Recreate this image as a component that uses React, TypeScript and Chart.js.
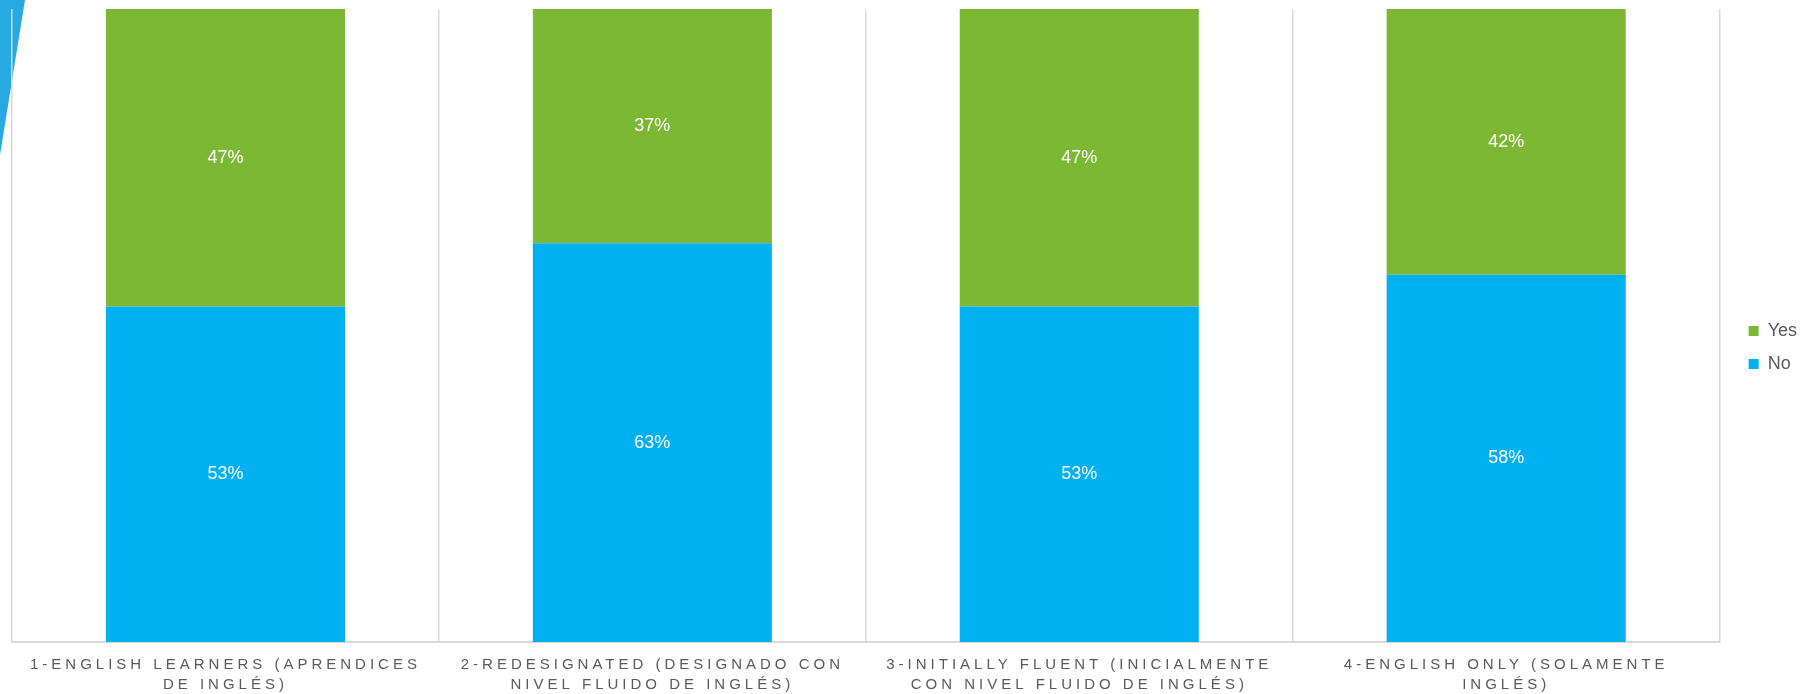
import React, { useEffect, useRef } from 'react';
import { Chart, registerables, CategoryScale } from 'chart.js';

Chart.register(...registerables);

class SpacedCategoryScale extends CategoryScale {
  static id = 'spacedCategory';
  static defaults = CategoryScale.defaults;
  _computeLabelArea() {
    return undefined;
  }
  drawLabels(chartArea: any) {
    const ctx: any = this.ctx;
    ctx.save();
    ctx.letterSpacing = '4px';
    super.drawLabels(chartArea);
    ctx.restore();
  }
}
Chart.register(SpacedCategoryScale as any);

const FONT = '"Liberation Sans", Arial, Helvetica, sans-serif';

const categories: string[][] = [
  ['1-ENGLISH LEARNERS (APRENDICES', 'DE INGLÉS)'],
  ['2-REDESIGNATED (DESIGNADO CON', 'NIVEL FLUIDO DE INGLÉS)'],
  ['3-INITIALLY FLUENT (INICIALMENTE', 'CON NIVEL FLUIDO DE INGLÉS)'],
  ['4-ENGLISH ONLY (SOLAMENTE', 'INGLÉS)'],
];
const noValues = [53, 63, 53, 58];
const yesValues = [47, 37, 47, 42];

const GREEN = '#7cb834';
const BLUE = '#00b0f0';

const decorationPlugin = {
  id: 'decoration',
  beforeDraw(chart: any) {
    const ctx = chart.ctx;
    ctx.save();
    ctx.fillStyle = '#27aae1';
    ctx.beginPath();
    ctx.moveTo(0, 0);
    ctx.lineTo(25, 0);
    ctx.lineTo(0, 155);
    ctx.closePath();
    ctx.fill();
    ctx.restore();
  },
};

const dataLabelPlugin = {
  id: 'dataLabels',
  afterDatasetsDraw(chart: any) {
    const ctx = chart.ctx;
    ctx.save();
    ctx.fillStyle = '#ffffff';
    ctx.font = `18px ${FONT}`;
    ctx.textAlign = 'center';
    ctx.textBaseline = 'middle';
    chart.data.datasets.forEach((ds: any, i: number) => {
      const meta = chart.getDatasetMeta(i);
      meta.data.forEach((bar: any, j: number) => {
        const { x, y, base } = bar.getProps(['x', 'y', 'base'], true);
        ctx.fillText(ds.data[j] + '%', x, (y + base) / 2);
      });
    });
    ctx.restore();
  },
};

export default function App() {
  const ref = useRef<HTMLCanvasElement | null>(null);
  useEffect(() => {
    document.body.style.margin = '0';
    Chart.defaults.font.family = FONT;
    const chart = new Chart(ref.current as HTMLCanvasElement, {
      type: 'bar',
      data: {
        labels: categories,
        datasets: [
          { label: 'No', data: noValues, backgroundColor: BLUE, barPercentage: 0.56, categoryPercentage: 1 },
          { label: 'Yes', data: yesValues, backgroundColor: GREEN, barPercentage: 0.56, categoryPercentage: 1 },
        ],
      },
      options: {
        animation: false,
        responsive: false,
        devicePixelRatio: 1,
        layout: { padding: { left: 12, top: 9, right: -2, bottom: 8 } },
        plugins: {
          legend: {
            position: 'right',
            reverse: true,
            labels: {
              boxWidth: 10,
              boxHeight: 10,
              padding: 15,
              color: '#595959',
              font: { size: 18, family: FONT },
            },
          },
          tooltip: { enabled: false },
        },
        scales: {
          x: {
            type: 'spacedCategory' as any,
            stacked: true,
            offset: true,
            grid: { offset: true, color: '#d9d9d9', lineWidth: 1.5, drawTicks: false },
            border: { color: '#d9d9d9', width: 2 },
            ticks: {
              color: '#595959',
              font: { size: 15, family: FONT, lineHeight: 1.333 },
              padding: 13,
              maxRotation: 0,
              minRotation: 0,
              autoSkip: false,
            },
            afterFit: (scale: any) => {
              scale.height = 44;
            },
          },
          y: {
            stacked: true,
            min: 0,
            max: 100,
            position: 'right',
            display: true,
            ticks: { display: false },
            grid: { display: false },
            border: { display: false },
            afterFit: (scale: any) => {
              scale.width = 14;
            },
          },
        },
      },
      plugins: [decorationPlugin, dataLabelPlugin],
    } as any);
    return () => chart.destroy();
  }, []);
  return (
    <div style={{ width: 1805, height: 694 }}>
      <canvas ref={ref} width={1805} height={694} style={{ display: 'block' }} />
    </div>
  );
}
